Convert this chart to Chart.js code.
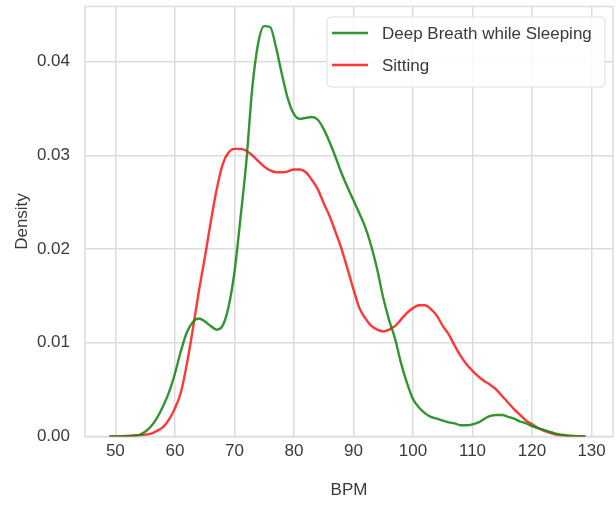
<!DOCTYPE html>
<html>
<head>
<meta charset="utf-8">
<script src="https://cdn.jsdelivr.net/npm/chart.js@4/dist/chart.umd.min.js"></script>
<style>
html,body{margin:0;padding:0;background:#fff;}
#wrap{width:616px;height:505px;position:relative;}
</style>
</head>
<body>
<div id="wrap"><canvas id="c" width="616" height="505"></canvas></div>
<script>
// BPM grid (x values)
const bpm = [49,50,51,52,53,54,55,56,57,58,59,60,61,62,63,64,65,66,67,68,69,70,71,72,73,74,75,76,77,78,79,80,81,82,83,84,85,86,87,88,89,90,91,92,93,94,95,96,97,98,99,100,101,102,103,104,105,106,107,108,109,110,111,112,113,114,115,116,117,118,119,120,121,122,123,124,125,126,127,128,129];
// Density: Deep Breath while Sleeping
const sleepingDensity = [0,0,0.00001,0.00003,0.00007,0.00015,0.0005,0.0011,0.0020,0.0032,0.0047,0.0067,0.0091,0.0111,0.0122,0.0126,0.0123,0.0118,0.0114,0.0118,0.0138,0.0175,0.0232,0.0293,0.0372,0.0420,0.0438,0.0437,0.0415,0.0386,0.0360,0.0344,0.0339,0.0340,0.0341,0.0338,0.0328,0.0314,0.0298,0.0281,0.0266,0.0252,0.0238,0.0223,0.0203,0.0178,0.0148,0.0124,0.0104,0.0078,0.0057,0.0040,0.0031,0.0025,0.0021,0.0019,0.0017,0.0015,0.0014,0.0012,0.0012,0.0013,0.0015,0.0019,0.0022,0.0023,0.0023,0.0021,0.0019,0.0016,0.0014,0.0011,0.0009,0.0007,0.0005,0.0003,0.0002,0.0001,0.00005,0.00002,0];
// Density: Sitting
const sittingDensity = [0,0.00001,0.00003,0.00006,0.0001,0.00015,0.0002,0.0003,0.0006,0.0010,0.0018,0.0030,0.0047,0.0077,0.0114,0.0154,0.0190,0.0228,0.0263,0.0290,0.0303,0.0307,0.0307,0.0305,0.0300,0.0294,0.0288,0.0284,0.0282,0.0282,0.0283,0.0285,0.0285,0.0282,0.0274,0.0264,0.0249,0.0235,0.0218,0.0200,0.0179,0.0157,0.0137,0.0126,0.0118,0.0114,0.0112,0.0114,0.0118,0.0125,0.0132,0.0137,0.0140,0.0140,0.0136,0.0129,0.0118,0.0109,0.0097,0.0086,0.0077,0.0070,0.0064,0.0059,0.0055,0.0050,0.0043,0.0036,0.0029,0.0023,0.0017,0.0013,0.0009,0.0006,0.0004,0.0002,0.00012,0.00007,0.00004,0.00002,0];
const seriesLabels = ['Deep Breath while Sleeping','Sitting'];
const xTicks = [50,60,70,80,90,100,110,120,130];
const yTicks = [0,0.01,0.02,0.03,0.04];

const GREEN = 'rgba(20,135,20,0.88)';
const RED = 'rgba(255,20,20,0.85)';
const TXT = '#3a3a3a';
const GRID = '#dcdcdc';
const FONT = '"Liberation Sans", Arial, sans-serif';

const toPts = (ys) => bpm.map((x,i)=>({x:x,y:ys[i]}));

const framePlugin = {
  id:'frame',
  beforeDatasetsDraw(chart){
    const {ctx, chartArea:a} = chart;
    ctx.save();
    ctx.strokeStyle = GRID;
    ctx.lineWidth = 1.5;
    ctx.strokeRect(a.left, a.top, a.right-a.left, a.bottom-a.top);
    ctx.restore();
  }
};

const legendPlugin = {
  id:'boxLegend',
  afterDatasetsDraw(chart){
    const ctx = chart.ctx;
    const x0=327, y0=17, w=278, h=70, r=4;
    ctx.save();
    ctx.beginPath();
    ctx.moveTo(x0+r,y0);
    ctx.arcTo(x0+w,y0,x0+w,y0+h,r);
    ctx.arcTo(x0+w,y0+h,x0,y0+h,r);
    ctx.arcTo(x0,y0+h,x0,y0,r);
    ctx.arcTo(x0,y0,x0+w,y0,r);
    ctx.closePath();
    ctx.fillStyle='rgba(255,255,255,0.85)';
    ctx.fill();
    ctx.strokeStyle='#dedede';
    ctx.lineWidth=1;
    ctx.stroke();
    const rows=[33,65];
    chart.data.datasets.forEach((ds,i)=>{
      ctx.strokeStyle=ds.borderColor;
      ctx.lineWidth=2.6;
      ctx.beginPath();
      ctx.moveTo(332,rows[i]);
      ctx.lineTo(368,rows[i]);
      ctx.stroke();
      ctx.fillStyle=TXT;
      ctx.font='17px '+FONT;
      ctx.textBaseline='middle';
      ctx.textAlign='left';
      ctx.fillText(ds.label,382,rows[i]+1);
    });
    ctx.restore();
  }
};

new Chart(document.getElementById('c'),{
  type:'line',
  data:{
    datasets:[
      {label:seriesLabels[0],data:toPts(sleepingDensity),borderColor:GREEN,borderWidth:2.4,pointRadius:0,fill:false,cubicInterpolationMode:'monotone'},
      {label:seriesLabels[1],data:toPts(sittingDensity),borderColor:RED,borderWidth:2.4,pointRadius:0,fill:false,cubicInterpolationMode:'monotone'}
    ]
  },
  options:{
    responsive:false,
    animation:false,
    layout:{padding:{top:6.5,right:3,left:0,bottom:0}},
    plugins:{legend:{display:false},tooltip:{enabled:false}},
    scales:{
      x:{
        type:'linear',min:44.9,max:133.6,
        afterBuildTicks(s){s.ticks=xTicks.map(v=>({value:v}));},
        afterFit(s){s.height=68.5;s.paddingLeft=0;s.paddingRight=0;},
        grid:{color:GRID,lineWidth:1.5,drawTicks:false},
        border:{display:false},
        ticks:{color:TXT,font:{family:FONT,size:17},padding:5,maxRotation:0,callback:(v)=>String(v)},
        title:{display:true,text:'BPM',color:TXT,font:{family:FONT,size:17},padding:{top:0,bottom:4}}
      },
      y:{
        type:'linear',min:0,max:0.04589,
        afterBuildTicks(s){s.ticks=yTicks.map(v=>({value:v}));},
        afterFit(s){s.width=85;s.paddingTop=0;s.paddingBottom=0;},
        grid:{color:GRID,lineWidth:1.5,drawTicks:false},
        border:{display:false},
        ticks:{color:TXT,font:{family:FONT,size:17},padding:15,callback:(v)=>v.toFixed(2)},
        title:{display:true,text:'Density',color:TXT,font:{family:FONT,size:17},padding:{top:12,bottom:0}}
      }
    }
  },
  plugins:[framePlugin,legendPlugin]
});
</script>
</body>
</html>
